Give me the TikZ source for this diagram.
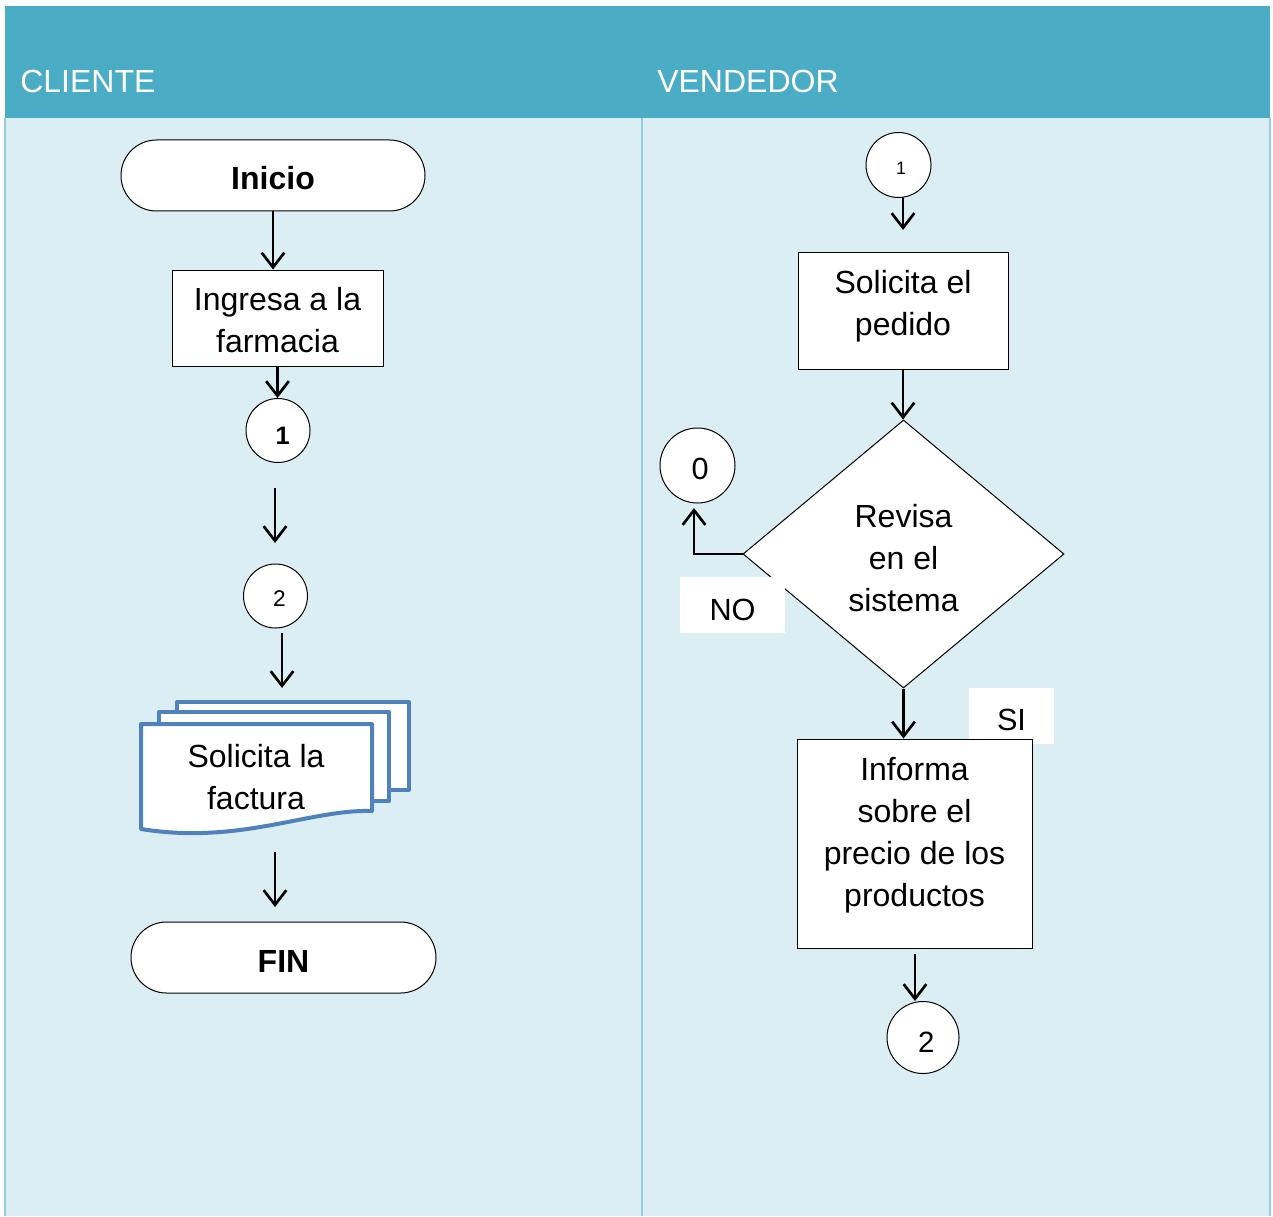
\documentclass[tikz,border=0pt]{standalone}
\usepackage{fontspec}
\setmainfont{Liberation Sans}
\usetikzlibrary{arrows.meta,shapes.geometric}
\definecolor{hdr}{HTML}{4BACC6}
\definecolor{bodyc}{HTML}{DAEEF3}
\definecolor{lanel}{HTML}{92CDDC}
\definecolor{docb}{HTML}{4F81BD}
\begin{document}
\begin{tikzpicture}[x=0.75pt,y=-0.75pt,
 arr/.style={line width=2pt,-{Straight Barb[length=11pt,width=17pt]}},
 txt/.style={font=\fontsize{24}{31.5}\selectfont, align=center, inner sep=0pt},
 box/.style={draw=black, fill=white, line width=0.75pt, inner sep=0pt},
 term/.style={box, rounded corners=26.6pt, minimum width=228pt, minimum height=53.25pt},
 termtxt/.style={font=\fontsize{24}{30}\selectfont\bfseries, inner sep=0pt},
 conn/.style={draw=black, fill=white, line width=0.75pt, circle, inner sep=0pt},
 lbl/.style={fill=white, inner sep=0pt},
 lbltxt/.style={font=\fontsize{23}{28}\selectfont, inner sep=0pt},
 lanetitle/.style={anchor=base west, text=white, font=\fontsize{24}{28}\selectfont, inner sep=0pt},
 docshape/.style={draw=docb, fill=white, line width=3pt, line join=round}]
\useasboundingbox (0,0) rectangle (1273,1216);
\fill[white] (0,0) rectangle (1273,1216);
\fill[bodyc] (5,118) rectangle (1270,1216);
\fill[hdr] (5,6) rectangle (1270,118);
\draw[lanel, line width=1.5pt] (5,118) -- (5,1216) (642,118) -- (642,1216) (1270,118) -- (1270,1216);
\node[lanetitle] (hc) at (20,93) {CLIENTE};
\node[lanetitle] (hv) at (657,93) {VENDEDOR};

% ---- CLIENTE lane ----
\node[term] (ini) at (273,175.5) {};
\node[termtxt] at ([yshift=-2.25pt]ini.center) {Inicio};
\node[box, minimum width=158.25pt, minimum height=72pt] (ing) at (277.5,318) {};
\node[txt] at ([yshift=-1.5pt]ing.center) {Ingresa a la\\farmacia};
\node[conn, minimum size=48pt] (c1L) at (278,430.5) {};
\node[font=\fontsize{19}{22}\selectfont\bfseries, inner sep=0pt] at ([xshift=3.5pt,yshift=-3.75pt]c1L.center) {1};
\node[conn, minimum size=48pt] (c2L) at (275.5,596) {};
\node[font=\fontsize{17}{20}\selectfont, inner sep=0pt] at ([xshift=3pt,yshift=-2.25pt]c2L.center) {2};

\filldraw[docshape] (177,702) rectangle (409,790);
\filldraw[docshape] (159,712) rectangle (389,801);
\filldraw[docshape] (141,724) -- (372,724) -- (372,811) .. controls (310,809) and (240,845) .. (141,829) -- cycle;
\node[txt] (doc) at (256,777) {Solicita la\\factura};

\node[term, minimum width=228.75pt] (fin) at (283.5,957.5) {};
\node[termtxt] at ([yshift=-3pt]fin.center) {FIN};

\coordinate (a3s) at (275,488);
\coordinate (a3e) at (275,543);
\coordinate (a4s) at (282,633);
\coordinate (a4e) at (282,688);
\coordinate (a5s) at (275,852);
\coordinate (a5e) at (275,907);

\draw[arr] (ini.south) -- (ini.south |- ing.north);
\draw[arr] (ing.south) -- (ing.south |- c1L.north);
\draw[arr] (a3s) -- (a3e);
\draw[arr] (a4s) -- (a4e);
\draw[arr] (a5s) -- (a5e);

% ---- VENDEDOR lane ----
\node[conn, minimum size=48.75pt] (c1R) at (898.5,165) {};
\node[font=\fontsize{13.5}{16}\selectfont, inner sep=0pt] at ([xshift=2pt,yshift=-2.25pt]c1R.center) {1};
\node[box, minimum width=157.5pt, minimum height=87.75pt] (sol) at (903,310.5) {};
\node[txt] at ([yshift=3pt]sol.center) {Solicita el\\pedido};
\node[diamond, aspect=1.2, draw=black, fill=white, line width=0.75pt, inner sep=0pt,
      minimum width=240.75pt, minimum height=201pt] (dia) at (903.5,554) {};
\node[txt] at ([yshift=-3pt]dia.center) {Revisa\\en el\\sistema};
\node[conn, minimum size=56.25pt] (c0) at (697.5,465.5) {};
\node[font=\fontsize{23}{26}\selectfont, inner sep=0pt] at ([xshift=2pt,yshift=-2.25pt]c0.center) {0};
\node[lbl, minimum width=78.75pt, minimum height=42pt] (no) at (732.5,605) {};
\node[lbltxt] at ([yshift=-3.5pt]no.center) {NO};
\node[lbl, minimum width=63.75pt, minimum height=42pt] (si) at (1011.5,716) {};
\node[lbltxt] at ([yshift=-3pt]si.center) {SI};
\node[box, minimum width=176.25pt, minimum height=156.75pt] (inf) at (914.5,843.5) {};
\node[txt] at ([yshift=6pt]inf.center) {Informa\\sobre el\\precio de los\\productos};
\node[conn, minimum size=54pt] (c2R) at (923,1037.5) {};
\node[font=\fontsize{22}{25}\selectfont, inner sep=0pt] at ([xshift=2.5pt,yshift=-3.75pt]c2R.center) {2};

\coordinate (r1s) at (903,197);
\coordinate (r1e) at (903,230);
\coordinate (noe) at (694,508);
\coordinate (r5s) at (915,954);

\draw[arr] (r1s) -- (r1e);
\draw[arr] (sol.south) -- (sol.south |- dia.north);
\draw[arr] (dia.west) -| (noe);
\draw[arr] (dia.south) -- (dia.south |- inf.north);
\draw[arr] (r5s) -- (r5s |- c2R.north);
\end{tikzpicture}
\end{document}
